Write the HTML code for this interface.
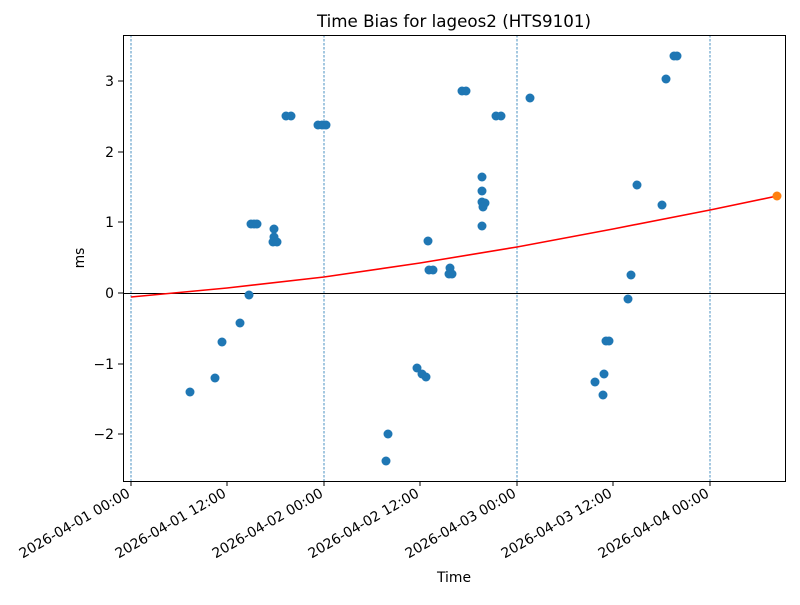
<!DOCTYPE html>
<html><head><style>body{margin:0;background:#fff}svg{font-family:"DejaVu Sans","Liberation Sans",sans-serif}</style></head><body>
<svg width="800" height="600" viewBox="0 0 800 600">
<rect width="800" height="600" fill="#fff"/>
<g stroke="#1f77b4" stroke-width="0.8" stroke-dasharray="2.5,1.5">
<line x1="131" y1="35" x2="131" y2="481"/><line x1="324" y1="35" x2="324" y2="481"/><line x1="517" y1="35" x2="517" y2="481"/><line x1="710" y1="35" x2="710" y2="481"/>
</g>
<line x1="123" y1="293.5" x2="785" y2="293.5" stroke="#000" stroke-width="1"/>
<polyline fill="none" stroke="red" stroke-width="1.6" points="131,297 227,288 324,277 420,263 517,247 613,229 710,210 777,196"/>
<g fill="#1f77b4">
<circle cx="190" cy="392" r="4.5"/><circle cx="215" cy="378" r="4.5"/><circle cx="222" cy="342" r="4.5"/><circle cx="240" cy="323" r="4.5"/><circle cx="249" cy="295" r="4.5"/>
<circle cx="251" cy="224" r="4.5"/><circle cx="254" cy="224" r="4.5"/><circle cx="257" cy="224" r="4.5"/>
<circle cx="274" cy="229" r="4.5"/><circle cx="274" cy="237" r="4.5"/><circle cx="273" cy="242" r="4.5"/><circle cx="277" cy="242" r="4.5"/>
<circle cx="286" cy="116" r="4.5"/><circle cx="291" cy="116" r="4.5"/>
<circle cx="318" cy="125" r="4.5"/><circle cx="322" cy="125" r="4.5"/><circle cx="326" cy="125" r="4.5"/>
<circle cx="386" cy="461" r="4.5"/><circle cx="388" cy="434" r="4.5"/>
<circle cx="417" cy="368" r="4.5"/><circle cx="422" cy="374" r="4.5"/><circle cx="426" cy="377" r="4.5"/><circle cx="428" cy="241" r="4.5"/>
<circle cx="429" cy="270" r="4.5"/><circle cx="433" cy="270" r="4.5"/>
<circle cx="450" cy="268" r="4.5"/><circle cx="449" cy="274" r="4.5"/><circle cx="452" cy="274" r="4.5"/>
<circle cx="462" cy="91" r="4.5"/><circle cx="466" cy="91" r="4.5"/>
<circle cx="482" cy="177" r="4.5"/><circle cx="482" cy="191" r="4.5"/><circle cx="482" cy="202" r="4.5"/><circle cx="485" cy="203" r="4.5"/><circle cx="483" cy="207" r="4.5"/><circle cx="482" cy="226" r="4.5"/>
<circle cx="496" cy="116" r="4.5"/><circle cx="501" cy="116" r="4.5"/><circle cx="530" cy="98" r="4.5"/>
<circle cx="595" cy="382" r="4.5"/><circle cx="603" cy="395" r="4.5"/><circle cx="604" cy="374" r="4.5"/><circle cx="606" cy="341" r="4.5"/><circle cx="609" cy="341" r="4.5"/>
<circle cx="628" cy="299" r="4.5"/><circle cx="631" cy="275" r="4.5"/><circle cx="637" cy="185" r="4.5"/><circle cx="662" cy="205" r="4.5"/><circle cx="666" cy="79" r="4.5"/><circle cx="674" cy="56" r="4.5"/><circle cx="677" cy="56" r="4.5"/>
</g>
<circle cx="777" cy="196" r="4.5" fill="#ff7f0e"/>
<rect x="123.5" y="35.5" width="662" height="446" fill="none" stroke="#000" stroke-width="1"/>
<g stroke="#000" stroke-width="1">
<line x1="131" y1="481" x2="131" y2="486"/><line x1="227" y1="481" x2="227" y2="486"/><line x1="324" y1="481" x2="324" y2="486"/><line x1="420" y1="481" x2="420" y2="486"/><line x1="517" y1="481" x2="517" y2="486"/><line x1="613" y1="481" x2="613" y2="486"/><line x1="710" y1="481" x2="710" y2="486"/>
<line x1="118" y1="81" x2="123" y2="81"/><line x1="118" y1="152" x2="123" y2="152"/><line x1="118" y1="222" x2="123" y2="222"/><line x1="118" y1="293" x2="123" y2="293"/><line x1="118" y1="364" x2="123" y2="364"/><line x1="118" y1="434" x2="123" y2="434"/>
</g>
<g font-size="13.9" text-anchor="end">
<text x="114" y="86">3</text><text x="114" y="157">2</text><text x="114" y="227">1</text><text x="114" y="298">0</text><text x="114" y="369">−1</text><text x="114" y="439">−2</text>
</g>
<g font-size="13.9" text-anchor="end">
<text transform="translate(131,496) rotate(-30)">2026-04-01 00:00</text>
<text transform="translate(227,496) rotate(-30)">2026-04-01 12:00</text>
<text transform="translate(324,496) rotate(-30)">2026-04-02 00:00</text>
<text transform="translate(420,496) rotate(-30)">2026-04-02 12:00</text>
<text transform="translate(517,496) rotate(-30)">2026-04-03 00:00</text>
<text transform="translate(613,496) rotate(-30)">2026-04-03 12:00</text>
<text transform="translate(710,496) rotate(-30)">2026-04-04 00:00</text>
</g>
<text x="454" y="582" font-size="13.9" text-anchor="middle">Time</text>
<text transform="translate(84,258) rotate(-90)" font-size="13.9" text-anchor="middle">ms</text>
<text x="454" y="27" font-size="16.7" text-anchor="middle">Time Bias for lageos2 (HTS9101)</text>
</svg>
</body></html>
